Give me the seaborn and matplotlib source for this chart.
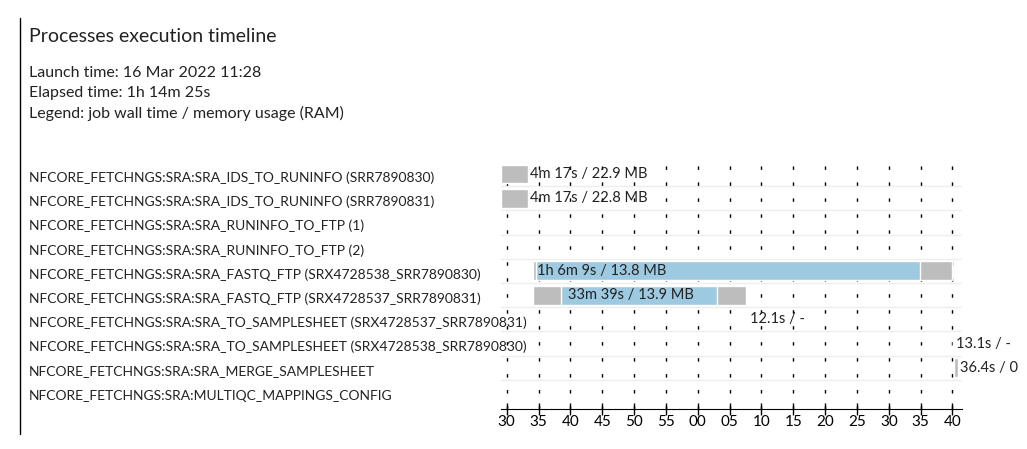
import matplotlib
matplotlib.use("Agg")
import matplotlib.pyplot as plt
import matplotlib.transforms as mtransforms
import seaborn as sns

sns.set_style("white")
plt.rcParams['font.family'] = ['Lato', 'DejaVu Sans']

processes = [
    "NFCORE_FETCHNGS:SRA:SRA_IDS_TO_RUNINFO (SRR7890830)",
    "NFCORE_FETCHNGS:SRA:SRA_IDS_TO_RUNINFO (SRR7890831)",
    "NFCORE_FETCHNGS:SRA:SRA_RUNINFO_TO_FTP (1)",
    "NFCORE_FETCHNGS:SRA:SRA_RUNINFO_TO_FTP (2)",
    "NFCORE_FETCHNGS:SRA:SRA_FASTQ_FTP (SRX4728538_SRR7890830)",
    "NFCORE_FETCHNGS:SRA:SRA_FASTQ_FTP (SRX4728537_SRR7890831)",
    "NFCORE_FETCHNGS:SRA:SRA_TO_SAMPLESHEET (SRX4728537_SRR7890831)",
    "NFCORE_FETCHNGS:SRA:SRA_TO_SAMPLESHEET (SRX4728538_SRR7890830)",
    "NFCORE_FETCHNGS:SRA:SRA_MERGE_SAMPLESHEET",
    "NFCORE_FETCHNGS:SRA:MULTIQC_MAPPINGS_CONFIG",
]
# minutes after 11:00
submit_start = [29.1, 29.1, 33.3, 33.3, 34.1, 34.1, 67.7, 100.1, 100.3, 100.9]
run_start    = [33.3, 33.3, 33.3, 33.3, 34.6, 38.6, 67.7, 100.1, 100.9, 100.9]
run_end      = [33.3, 33.3, 33.4, 33.4, 94.9, 63.0, 67.9, 100.3, 100.9, 101.0]
complete_end = [33.3, 33.3, 33.4, 33.4, 100.0, 67.6, 67.9, 100.3, 100.9, 101.0]
bar_labels = ["4m 17s / 22.9 MB", "4m 17s / 22.8 MB", "", "", "1h 6m 9s / 13.8 MB",
              "33m 39s / 13.9 MB", "12.1s / -", "13.1s / -", "36.4s / 0", ""]
tick_values = [30, 35, 40, 45, 50, 55, 60, 65, 70, 75, 80, 85, 90, 95, 100]
tick_labels = ["30", "35", "40", "45", "50", "55", "00", "05", "10", "15", "20", "25",
               "30", "35", "40"]

fig = plt.figure(figsize=(10.27, 4.49), dpi=100)
W, H = 1027, 449
ax = fig.add_axes([501 / W, 1 - 409 / H, (962 - 501) / W, (409 - 157) / H])

n = len(processes)
ys = list(range(n))
gray = "#bdbdbd"
blue = "#9ecae1"
for y, s, rs, re, ce, lab in zip(ys, submit_start, run_start, run_end, complete_end, bar_labels):
    end = max(ce, re, s + 0.1)
    ax.barh(y, end - s, left=s, height=0.78, color=gray, zorder=2)
    if re > rs:
        ax.barh(y, re - rs, left=rs, height=0.78, color=blue if (re - rs) > 1 else "#c6dbef", zorder=3)
    if lab:
        tx = end + 0.3
        if y == 4:
            tx = rs + 0.2
        if y == 5:
            tx = rs + 1.0
        ax.text(tx, y, lab, va="center", ha="left", fontsize=10.5, zorder=4, color="#222")
    if y < n - 1:
        ax.axhline(y + 0.5, color="#eeeeee", lw=1, zorder=1)

for t in tick_values:
    ax.axvline(t, color="black", lw=1, linestyle=(0, (2.5, 9)), zorder=1.5)

ax.set_xlim(29.1, 101.5)
ax.set_ylim(n - 0.3, -0.7)
ax.set_xticks(tick_values, tick_labels)
ax.xaxis.set_ticks_position("bottom")
ax.tick_params(axis="x", direction="inout", length=8, width=1, labelsize=11, pad=0, colors="black")
ax.set_yticks([])
for sp in ["top", "right", "left"]:
    ax.spines[sp].set_visible(False)
ax.spines["bottom"].set_color("black")

trans = mtransforms.blended_transform_factory(fig.transFigure, ax.transData)
for y, name in zip(ys, processes):
    fig.text(29 / W, y + 0.15, name, transform=trans, va="center", ha="left", fontsize=10, color="#222")

fig.add_artist(plt.Line2D([20 / W, 20 / W], [1 - 18 / H, 1 - 434 / H], color="black", lw=1))
fig.text(29 / W, 1 - 36 / H, "Processes execution timeline", fontsize=14, va="center", color="#222")
fig.text(29 / W, 1 - 73 / H, "Launch time: 16 Mar 2022 11:28", fontsize=11.5, va="center", color="#222")
fig.text(29 / W, 1 - 93 / H, "Elapsed time: 1h 14m 25s", fontsize=11.5, va="center", color="#222")
fig.text(29 / W, 1 - 113 / H, "Legend: job wall time / memory usage (RAM)", fontsize=11.5, va="center", color="#222")

fig.savefig("out.png", dpi=100)
